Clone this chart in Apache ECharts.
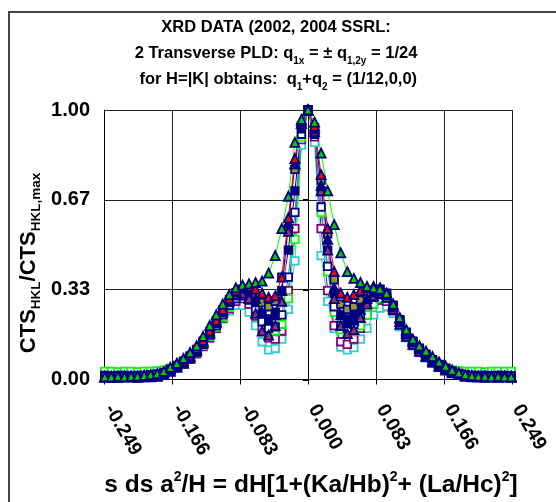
<!DOCTYPE html>
<html>
<head>
<meta charset="utf-8">
<script src="https://cdn.jsdelivr.net/npm/echarts@6/dist/echarts.min.js"></script>
<style>html,body{margin:0;padding:0;background:#fff}#c{width:556px;height:502px}</style>
</head>
<body>
<div id="c"></div>
<script>
// ---- data ----
const xValues = [-0.248,-0.240,-0.232,-0.224,-0.216,-0.208,-0.200,-0.192,-0.184,
  -0.176,-0.168,-0.160,-0.152,-0.144,-0.136,-0.128,-0.120,-0.112,-0.104,-0.096,-0.088,
  -0.080,-0.072,-0.064,-0.056,-0.048,-0.040,-0.032,-0.024,-0.016,-0.008,
  0.000,
  0.008,0.016,0.024,0.032,0.040,0.048,0.056,0.064,0.072,0.080,
  0.088,0.096,0.104,0.112,0.120,0.128,0.136,0.144,0.152,0.160,0.168,0.176,
  0.184,0.192,0.200,0.208,0.216,0.224,0.232,0.240,0.248];

const sqCyan = [0.025,0.022,0.020,0.022,0.020,0.022,0.025,0.025,0.028,
  0.032,0.040,0.050,0.062,0.078,0.098,0.125,0.155,0.190,0.225,0.255,0.275,
  0.275,0.250,0.200,0.140,0.110,0.115,0.150,0.260,0.440,0.870,
  1.000,
  0.880,0.460,0.290,0.190,0.120,0.110,0.118,0.150,0.190,0.240,
  0.265,0.270,0.245,0.195,0.155,0.125,0.100,0.080,0.062,0.048,0.038,0.030,
  0.026,0.022,0.020,0.022,0.020,0.022,0.020,0.022,0.020];

const sqPurple = [0.015,0.015,0.012,0.015,0.015,0.012,0.015,0.018,0.020,
  0.025,0.035,0.045,0.058,0.075,0.095,0.122,0.155,0.190,0.228,0.262,0.290,
  0.300,0.280,0.235,0.185,0.155,0.150,0.180,0.330,0.560,0.890,
  1.000,
  0.900,0.560,0.330,0.200,0.140,0.130,0.150,0.190,0.240,0.280,
  0.295,0.290,0.255,0.205,0.160,0.128,0.102,0.082,0.063,0.048,0.036,0.026,
  0.020,0.016,0.014,0.015,0.012,0.015,0.014,0.012,0.015];

const sqLime = [0.030,0.030,0.028,0.030,0.030,0.028,0.030,0.030,0.032,
  0.035,0.042,0.052,0.064,0.080,0.100,0.128,0.160,0.195,0.232,0.268,0.300,
  0.320,0.310,0.270,0.215,0.185,0.180,0.205,0.300,0.520,0.900,
  1.000,
  0.920,0.620,0.400,0.250,0.185,0.175,0.180,0.200,0.240,0.280,
  0.300,0.300,0.270,0.220,0.175,0.140,0.112,0.090,0.070,0.055,0.042,0.035,
  0.032,0.030,0.030,0.030,0.028,0.030,0.030,0.030,0.030];

const sqNavyOpen = [0.015,0.012,0.015,0.015,0.012,0.015,0.015,0.018,0.020,
  0.025,0.036,0.048,0.062,0.080,0.102,0.130,0.165,0.200,0.240,0.275,0.300,
  0.310,0.295,0.260,0.215,0.190,0.195,0.240,0.380,0.620,0.910,
  1.000,
  0.910,0.640,0.420,0.270,0.200,0.190,0.205,0.240,0.280,0.305,
  0.315,0.305,0.265,0.215,0.170,0.135,0.108,0.088,0.068,0.052,0.040,0.030,
  0.022,0.018,0.015,0.015,0.015,0.012,0.015,0.015,0.012];

const sqNavy = [0.012,0.012,0.010,0.012,0.012,0.012,0.014,0.015,0.018,
  0.024,0.036,0.050,0.065,0.084,0.108,0.138,0.172,0.210,0.250,0.285,0.310,
  0.325,0.315,0.285,0.245,0.225,0.250,0.330,0.480,0.700,0.930,
  1.000,
  0.925,0.700,0.480,0.320,0.240,0.225,0.240,0.270,0.300,0.320,
  0.325,0.312,0.270,0.218,0.172,0.138,0.112,0.090,0.070,0.054,0.040,0.030,
  0.022,0.016,0.014,0.012,0.014,0.012,0.012,0.014,0.012];

const sqOlive = [0.012,0.010,0.012,0.012,0.010,0.012,0.014,0.016,0.020,
  0.026,0.038,0.052,0.068,0.088,0.112,0.142,0.178,0.218,0.258,0.295,0.322,
  0.335,0.330,0.310,0.285,0.270,0.290,0.380,0.560,0.780,0.940,
  1.000,
  0.935,0.740,0.540,0.370,0.280,0.260,0.270,0.295,0.318,0.332,
  0.335,0.320,0.276,0.222,0.176,0.142,0.116,0.094,0.074,0.056,0.042,0.031,
  0.023,0.017,0.014,0.013,0.012,0.013,0.012,0.012,0.012];

const triPurple = [0.008,0.010,0.008,0.010,0.010,0.008,0.010,0.010,0.012,
  0.018,0.030,0.045,0.060,0.080,0.105,0.135,0.170,0.210,0.250,0.290,0.315,
  0.320,0.300,0.245,0.180,0.165,0.200,0.290,0.550,0.800,0.950,
  1.000,
  0.920,0.700,0.480,0.300,0.200,0.170,0.185,0.230,0.280,0.310,
  0.320,0.305,0.260,0.205,0.160,0.130,0.105,0.085,0.065,0.048,0.035,0.025,
  0.018,0.012,0.010,0.010,0.008,0.010,0.008,0.010,0.008];

const triNavy = [0.010,0.008,0.010,0.012,0.010,0.010,0.012,0.012,0.015,
  0.020,0.035,0.050,0.065,0.085,0.110,0.140,0.175,0.215,0.255,0.295,0.325,
  0.340,0.335,0.300,0.250,0.220,0.240,0.330,0.580,0.800,0.950,
  1.000,
  0.930,0.720,0.520,0.340,0.240,0.210,0.220,0.260,0.300,0.325,
  0.330,0.315,0.270,0.215,0.170,0.140,0.115,0.090,0.070,0.052,0.040,0.028,
  0.020,0.015,0.012,0.010,0.012,0.010,0.010,0.012,0.010];

const triRed = [0.012,0.010,0.010,0.012,0.012,0.010,0.015,0.015,0.018,
  0.025,0.040,0.055,0.070,0.090,0.115,0.145,0.180,0.220,0.260,0.300,0.330,
  0.345,0.345,0.335,0.320,0.305,0.310,0.380,0.600,0.820,0.960,
  1.000,
  0.940,0.760,0.560,0.400,0.320,0.305,0.315,0.330,0.340,0.345,
  0.340,0.320,0.275,0.225,0.180,0.145,0.120,0.100,0.080,0.060,0.045,0.032,
  0.022,0.016,0.014,0.012,0.012,0.014,0.012,0.012,0.012];

const triGreen = [0.010,0.010,0.012,0.010,0.012,0.012,0.015,0.018,0.022,
  0.030,0.045,0.060,0.078,0.100,0.125,0.160,0.200,0.240,0.280,0.315,0.340,
  0.350,0.355,0.360,0.365,0.395,0.460,0.560,0.680,0.880,0.965,
  1.000,
  0.955,0.840,0.700,0.575,0.470,0.400,0.375,0.360,0.345,0.340,
  0.335,0.320,0.280,0.230,0.185,0.150,0.125,0.105,0.085,0.065,0.050,0.035,
  0.025,0.018,0.014,0.012,0.012,0.010,0.012,0.010,0.010];

const xTicks = ['-0.249','-0.166','-0.083','0.000','0.083','0.166','0.249'];
const yTicks = ['0.00','0.33','0.67','1.00'];

// ---- chart ----
const FONT = 'Liberation Sans, Arial, sans-serif';
function pairs(ys){ return ys.map((y,i)=>[xValues[i], y]); }

const seriesDefs = [
  {name:'sqCyan', data:sqCyan, symbol:'rect', size:7.5, fill:'#ffffff', border:'#33CCCC', line:'#33CCCC'},
  {name:'sqPurple', data:sqPurple, symbol:'rect', size:7.5, fill:'#ffffff', border:'#800080', line:'#800080'},
  {name:'sqLime', data:sqLime, symbol:'rect', size:7.5, fill:'#ffffff', border:'#00FF00', line:'#00FF00'},
  {name:'sqNavyOpen', data:sqNavyOpen, symbol:'rect', size:7.5, fill:'#ffffff', border:'#000080', line:'#3366FF'},
  {name:'sqNavy', data:sqNavy, symbol:'rect', size:7.5, fill:'#000080', border:'#000080', line:'#000080'},
  {name:'sqOlive', data:sqOlive, symbol:'rect', size:7.5, fill:'#999933', border:'#000080', line:'#FF99CC'},
  {name:'triPurple', data:triPurple, symbol:'triangle', size:9, fill:'#993366', border:'#000080', line:'#FF99CC'},
  {name:'triNavy', data:triNavy, symbol:'triangle', size:9, fill:'#000080', border:'#000080', line:'#000080'},
  {name:'triRed', data:triRed, symbol:'triangle', size:9, fill:'#FF0000', border:'#000080', line:'#FF0000'},
  {name:'triGreen', data:triGreen, symbol:'triangle', size:9, fill:'#00CC00', border:'#000080', line:'#00FF00'}
];

const series = seriesDefs.map(d => ({
  name: d.name, type:'line', data: pairs(d.data),
  symbol: d.symbol, symbolSize: d.size, showSymbol:true,
  lineStyle:{color:d.line, width:1},
  itemStyle:{color:d.fill, borderColor:d.border, borderWidth:1.8},
  emphasis:{disabled:true}, animation:false, z:2
}));

const chart = echarts.init(document.getElementById('c'), null, {renderer:'canvas'});
chart.setOption({
  animation:false,
  backgroundColor:'#ffffff',
  grid:{left:104, right:44, top:110, bottom:122.5, show:false},
  xAxis:{
    type:'value', min:-0.249, max:0.249, interval:0.083,
    axisLine:{show:true, onZero:false, lineStyle:{color:'#000', width:1}},
    axisTick:{show:true, length:5, lineStyle:{color:'#000'}},
    splitLine:{show:true, lineStyle:{color:'#222', width:1}},
    axisLabel:{
      rotate:-60, margin:18, padding:[0,0,0,10], color:'#000', fontFamily:FONT, fontWeight:'bold', fontSize:19.5,
      formatter:(v)=>{ const k = Math.round((v+0.249)/0.083); return xTicks[k]; }
    }
  },
  yAxis:[{
    type:'value', min:0, max:1, interval:1/3,
    axisLine:{show:true, onZero:false, lineStyle:{color:'#000', width:1}},
    axisTick:{show:false},
    splitLine:{show:true, lineStyle:{color:'#222', width:1}},
    axisLabel:{
      margin:14, color:'#000', fontFamily:FONT, fontWeight:'bold', fontSize:20,
      formatter:(v)=>yTicks[Math.round(v*3)]
    }
  },{
    type:'value', min:0, max:1, interval:1/3, position:'left',
    axisLine:{show:true, onZero:true, onZeroAxisIndex:0, lineStyle:{color:'#000', width:1}},
    axisTick:{show:true, length:5, lineStyle:{color:'#000', width:2}},
    splitLine:{show:false}, axisLabel:{show:false}
  }],
  series: series,
  graphic:[
    {type:'rect', z:-10, silent:true, shape:{x:9, y:12, width:700, height:700},
      style:{fill:'none', stroke:'#444', lineWidth:2}},
    {type:'text', x:276, y:14, silent:true, style:{
      text:'XRD DATA (2002, 2004 SSRL:\n2 Transverse PLD: q{s|1x} = ± q{s|1,2y} = 1/24\n for H=|K| obtains:  q{s|1}+q{s|2} = (1/12,0,0)',
      align:'center', verticalAlign:'top',
      fontFamily:FONT, fontWeight:'bold', fontSize:16.5, lineHeight:26, fill:'#000',
      rich:{s:{fontFamily:FONT, fontWeight:'bold', fontSize:10, lineHeight:15, verticalAlign:'bottom', fill:'#000'}}
    }},
    {type:'text', x:29, y:263, rotation:Math.PI/2, silent:true, style:{
      text:'CTS{s|HKL}/CTS{s|HKL,max}',
      align:'center', verticalAlign:'middle',
      fontFamily:FONT, fontWeight:'bold', fontSize:22, lineHeight:29, fill:'#000',
      rich:{s:{fontFamily:FONT, fontWeight:'bold', fontSize:13.5, lineHeight:16, verticalAlign:'bottom', fill:'#000'}}
    }},
    {type:'text', x:311, y:485, silent:true, style:{
      text:'s ds a{p|2}/H = dH[1+(Ka/Hb){p|2}+ (La/Hc){p|2}]',
      align:'center', verticalAlign:'middle',
      fontFamily:FONT, fontWeight:'bold', fontSize:24.5, lineHeight:30, fill:'#000',
      rich:{p:{fontFamily:FONT, fontWeight:'bold', fontSize:14, lineHeight:17, verticalAlign:'top', fill:'#000'}}
    }}
  ]
});
</script>
</body>
</html>
